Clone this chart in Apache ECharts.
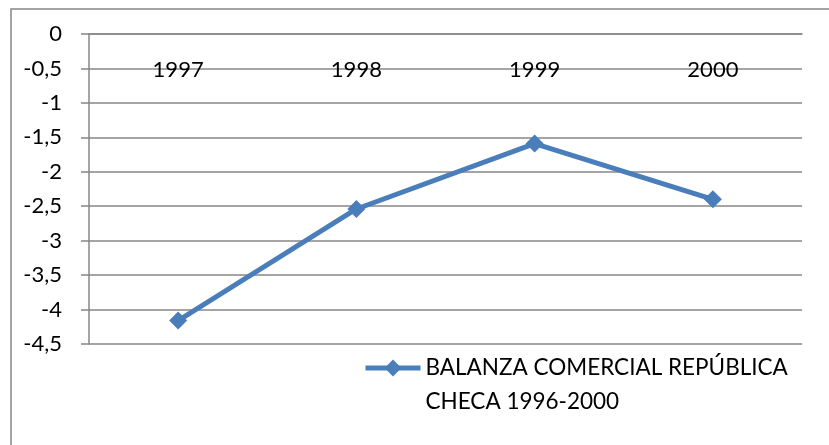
<!DOCTYPE html>
<html>
<head>
<meta charset="utf-8">
<script src="https://cdn.jsdelivr.net/npm/echarts@6/dist/echarts.min.js"></script>
<style>
  html, body { margin: 0; padding: 0; background: #fff; }
  #chart { width: 829px; height: 445px; }
</style>
</head>
<body>
<div id="chart"></div>
<script>
// datos
const years = ['1997', '1998', '1999', '2000'];
const balanza = [-4.16, -2.54, -1.59, -2.40];
const seriesName = 'BALANZA COMERCIAL REPÚBLICA CHECA 1996-2000';
const legendLines = ['BALANZA COMERCIAL REPÚBLICA', 'CHECA 1996-2000'];

const chart = echarts.init(document.getElementById('chart'));
const gray = '#878787';
const blue = '#4a7ebb';
const font = 'Lato';

let option = {
    animation: false,
    backgroundColor: '#fff',
    grid: {
        left: 89,
        right: 27,
        top: 34,
        bottom: 101
    },
    graphic: [{
        type: 'rect',
        shape: { x: 11, y: 9, width: 840, height: 460 },
        style: { fill: 'none', stroke: gray, lineWidth: 1.5 },
        silent: true
    }],
    legend: {
        left: 358,
        top: 312,
        itemWidth: 55,
        itemHeight: 21,
        itemGap: 0,
        lineStyle: { width: 5, color: blue },
        textStyle: {
            fontFamily: font,
            fontSize: 22.5,
            color: '#000',
            lineHeight: 34,
            padding: [0, 0, 0, 0]
        },
        // linea vacia arriba para que el icono quede alineado con la primera linea
        formatter: function () {
            return '\u00a0\n' + legendLines.join('\n');
        },
        data: [seriesName]
    },
    xAxis: {
        type: 'category',
        position: 'top',
        data: years,
        boundaryGap: true,
        axisLine: { lineStyle: { color: gray, width: 1.5 } },
        axisTick: { inside: true, length: 8, lineStyle: { color: gray, width: 1.5 } },
        axisLabel: {
            inside: true,
            margin: 25,
            fontFamily: font,
            fontSize: 22,
            color: '#000'
        },
        splitLine: { show: false }
    },
    yAxis: {
        type: 'value',
        min: -4.5,
        max: 0,
        interval: 0.5,
        axisLine: { show: true, lineStyle: { color: gray, width: 1.5 } },
        axisTick: { show: true, length: 8, lineStyle: { color: gray, width: 1.5 } },
        axisLabel: {
            margin: 27,
            fontFamily: font,
            fontSize: 22,
            color: '#000',
            formatter: function (v) {
                return String(v).replace('.', ',');
            }
        },
        splitLine: { lineStyle: { color: gray, width: 1.5 } }
    },
    series: [{
        name: seriesName,
        type: 'line',
        data: balanza,
        symbol: 'diamond',
        symbolSize: 18,
        lineStyle: { color: blue, width: 5 },
        itemStyle: { color: blue }
    }]
};
chart.setOption(option);
</script>
</body>
</html>
